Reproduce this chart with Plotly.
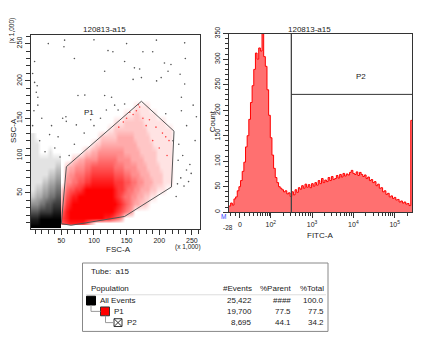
import math
import plotly.graph_objects as go

W, H = 430, 350
FONT = "Liberation Sans, Arial, sans-serif"

plot_title = "120813-a15"

# ---------------- dot plot (FSC-A vs SSC-A, x1000) ----------------
gate_fsc = [50.0, 57.7, 172.7, 222.7, 218.7, 147.0, 65.0, 50.0]
gate_ssc = [8.6, 85.0, 172.7, 132.6, 57.8, 18.3, 6.5, 8.6]
gate_label = "P1"
gate_label_fsc, gate_label_ssc = 93, 157

# P1 (red) event density, 0..9; rows from top (SSC 170-180) to bottom (SSC 7-12); columns FSC 50..230 step 5
red_fsc_edges = list(range(50, 235, 5))
red_ssc_edges = [7, 12] + list(range(20, 190, 10))
red_rows = [
    "00000 00000 00000 00000 00000 00000 00000 0",  # 170-180
    "00000 00000 00000 00000 00111 11000 00000 0",  # 160-170
    "00000 00000 00000 00001 11221 11110 00000 0",  # 150-160
    "00000 00000 00000 01112 22222 11111 11000 0",  # 140-150
    "00000 00000 00001 12222 22222 21111 11110 0",  # 130-140
    "00000 00000 01222 22333 33222 22111 11110 0",  # 120-130
    "00000 00001 22333 33333 33322 22211 11110 0",  # 110-120
    "00000 01223 34444 44443 33332 22221 11110 0",  # 100-110
    "00022 33444 45555 55444 43333 22221 11110 0",  # 90-100
    "02334 44556 66666 65554 44433 32222 11110 0",  # 80-90
    "03445 55667 77777 76665 54443 33222 21110 0",  # 70-80
    "04455 66778 88888 87776 65544 33322 21110 0",  # 60-70
    "25667 78999 99999 98776 55443 33221 11000 0",  # 50-60
    "36788 99999 99999 98765 54433 22110 00000 0",  # 40-50
    "47899 99999 99999 99876 54332 21000 00000 0",  # 30-40
    "68999 99999 99999 98765 43000 00000 00000 0",  # 20-30
    "78999 99999 99988 76530 00000 00000 00000 0",  # 12-20
    "67888 88642 00000 00000 00000 00000 00000 0",  # 7-12
]

# all-events (black, outside P1) density; rows top (SSC 120-130) to bottom (2-10); cols FSC 3.5,10,15..50
black_fsc_edges = [3.5] + list(range(10, 55, 5))
black_ssc_edges = [2] + list(range(10, 140, 10))
black_rows = [
    "100000000",  # 120-130
    "110000000",  # 110-120
    "110001000",  # 100-110
    "111111111",  # 90-100
    "111111122",  # 80-90
    "111112233",  # 70-80
    "111223344",  # 60-70
    "122334455",  # 50-60
    "233445566",  # 40-50
    "445566777",  # 30-40
    "667777888",  # 20-30
    "889999999",  # 10-20
    "999999999",  # 2-10
]

# isolated events outside the dense clouds
black_dot_fsc = [55, 54, 195.7, 239, 9, 121.5, 129, 175, 190, 147, 208, 218, 162, 170, 172.7, 203, 160, 196,
                 213.5, 232, 116.4, 239, 9, 13, 11.6, 14, 14, 75.5, 86, 116.4, 127, 131.7, 147, 119, 137, 95,
                 52, 57, 234, 252, 210, 234, 73, 57.6, 32, 16.8, 221, 229, 241.8, 249, 238, 230, 242, 257,
                 40, 25, 48, 62, 70, 85, 100, 110, 45, 35, 20, 6, 8, 6, 100, 150, 70, 30, 240, 255, 236, 245,
                 226, 233, 247, 228]
black_dot_ssc = [254.6, 245.8, 254.6, 251, 226, 240.6, 239, 239, 239, 226, 224, 222, 217.5, 216, 204.4, 204.4,
                 202, 200, 213, 209, 213, 195.8, 198, 193.6, 184.8, 178, 167.5, 180.5, 181, 180.5, 178, 167.5,
                 169, 161, 161, 148, 150, 152, 178, 167.5, 156, 160, 141, 145.8, 128, 119.7, 119.7, 93.6,
                 80.5, 76, 59, 115, 140, 152, 110, 105, 98, 100, 115, 130, 140, 150, 125, 140, 150, 210,
                 160, 140, 255, 250, 230, 250, 230, 120, 100, 65, 45, 70, 88, 62]
red_dot_fsc = [165, 170, 160, 175, 185, 180, 195, 205, 210, 215, 200, 212, 190, 150, 155, 168, 145, 138]
red_dot_ssc = [160, 165, 155, 150, 148, 140, 138, 130, 125, 120, 110, 100, 120, 150, 158, 168, 145, 138]

fsc_ticks = [50, 100, 150, 200, 250]
ssc_ticks = [50, 100, 150, 200, 250]

# ---------------- histogram (FITC-A, biexponential display units) ----------------
fitc_counts = [12, 18, 14, 26, 30, 42, 50, 62, 80, 98,
               128, 150, 182, 215, 248, 280, 312, 300, 322, 316,
               352, 305, 286, 240, 190, 146, 112, 86, 68, 58,
               50, 47, 44, 40, 42, 36, 38, 31, 40, 34,
               44, 39, 48, 45, 52, 47, 55, 49, 54, 48,
               56, 51, 58, 53, 62, 56, 66, 58, 63, 60,
               68, 62, 70, 64, 66, 72, 67, 74, 69, 76,
               71, 75, 73, 78, 82, 76, 74, 79, 72, 78,
               74, 70, 73, 66, 69, 62, 64, 58, 60, 52,
               55, 47, 48, 40, 42, 35, 37, 30, 32, 27,
               29, 24, 25, 20, 22, 18, 20, 16, 17, 13]
fitc_overflow = 180
fitc_min, fitc_max, fitc_bin = 0.988, 5.42, 0.04
fitc_tick_vals = [1.253, 2, 3, 4, 5]
fitc_tick_text = ["0", "10<sup>2</sup>", "10<sup>3</sup>", "10<sup>4</sup>", "10<sup>5</sup>"]
fitc_linear_minor = [1.03, 1.155, 1.37, 1.49, 1.59, 1.67, 1.74, 1.80, 1.86, 1.91, 1.96]
count_ticks = [0, 50, 100, 150, 200, 250, 300, 350]
p2_low = 2.498
p2_height = 231
p2_label = "P2"

# ---------------- statistics table ----------------
tube_name = "a15"
table_header = ["Population", "#Events", "%Parent", "%Total"]
pop_names = ["All Events", "P1", "P2"]
pop_events = ["25,422", "19,700", "8,695"]
pop_parent = ["####", "77.5", "44.1"]
pop_total = ["100.0", "77.5", "34.2"]


def grid(rows, ncols):
    out = []
    for r in rows:
        s = r.replace(" ", "").ljust(ncols, "0")[:ncols]
        out.append([int(c) for c in s])
    return out[::-1]


def px(x):
    return x / W


def py(y):
    return 1 - y / H


fig = go.Figure()

red_z = grid(red_rows, len(red_fsc_edges) - 1)
black_z = grid(black_rows, len(black_fsc_edges) - 1)

fig.add_trace(go.Heatmap(x=black_fsc_edges, y=black_ssc_edges, z=black_z, zmin=0, zmax=9,
                         zsmooth="best", showscale=False, hoverinfo="skip",
                         colorscale=[[0, "rgba(0,0,0,0)"], [1, "rgba(0,0,0,1)"]],
                         xaxis="x", yaxis="y"))
fig.add_trace(go.Heatmap(x=red_fsc_edges, y=red_ssc_edges, z=red_z, zmin=0, zmax=9,
                         zsmooth="best", showscale=False, hoverinfo="skip",
                         colorscale=[[0, "rgba(255,0,0,0)"], [1, "rgba(255,0,0,1)"]],
                         xaxis="x", yaxis="y"))
fig.add_trace(go.Scatter(x=black_dot_fsc, y=black_dot_ssc, mode="markers",
                         marker=dict(size=1.6, color="#555"), hoverinfo="skip",
                         xaxis="x", yaxis="y"))
fig.add_trace(go.Scatter(x=red_dot_fsc, y=red_dot_ssc, mode="markers",
                         marker=dict(size=1.6, color="#ff4040"), hoverinfo="skip",
                         xaxis="x", yaxis="y"))
fig.add_trace(go.Scatter(x=gate_fsc, y=gate_ssc, mode="lines",
                         line=dict(color="#555", width=1), hoverinfo="skip",
                         xaxis="x", yaxis="y"))

# histogram as a step outline
hx = [fitc_min + fitc_bin * i for i in range(len(fitc_counts))] + [5.39, fitc_max]
hy = fitc_counts + [fitc_overflow, fitc_overflow]
fig.add_trace(go.Scatter(x=hx, y=hy, mode="lines", line=dict(color="#ff0000", width=1, shape="hv"),
                         fill="tozeroy", fillcolor="#ff7070", hoverinfo="skip",
                         xaxis="x2", yaxis="y2"))

fsc_minor = [v for v in range(10, 261, 10) if v not in fsc_ticks]
ssc_minor = [v for v in range(10, 261, 10) if v not in ssc_ticks]
log_minor = [d + math.log10(k) for d in (2, 3, 4) for k in range(2, 10)] + [5 + math.log10(2)]
count_minor = [v for v in range(10, 350, 10) if v not in count_ticks]

axis_common = dict(showgrid=False, zeroline=False, showline=True, mirror=True,
                   linecolor="#333", linewidth=1, ticks="outside", tickcolor="#333",
                   tickwidth=1, tickfont=dict(family=FONT, size=7, color="#222"))

fig.update_layout(
    width=W, height=H, margin=dict(l=0, r=0, t=0, b=0),
    paper_bgcolor="white", plot_bgcolor="white", showlegend=False,
    font=dict(family=FONT, size=8, color="#222"),
    xaxis=dict(domain=[px(31), px(200)], range=[3.5, 262.5], tickmode="array",
               tickvals=fsc_ticks, ticklen=5,
               minor=dict(tickvals=fsc_minor, ticklen=4, ticks="outside", tickcolor="#333"),
               anchor="y", **axis_common),
    yaxis=dict(domain=[py(226.8), py(28.3)], range=[2, 262], tickmode="array",
               tickvals=ssc_ticks, ticklen=5, tickangle=-90,
               minor=dict(tickvals=ssc_minor, ticklen=4, ticks="outside", tickcolor="#333"),
               anchor="x", **axis_common),
    xaxis2=dict(domain=[px(229), px(412)], range=[fitc_min, fitc_max], tickmode="array",
                tickvals=fitc_tick_vals, ticktext=fitc_tick_text, ticklen=5,
                minor=dict(tickvals=fitc_linear_minor + log_minor, ticklen=3, ticks="outside",
                           tickcolor="#333"),
                anchor="y2", **axis_common),
    yaxis2=dict(domain=[py(210), py(27.3)], range=[0, 350], tickmode="array",
                tickvals=count_ticks, ticklen=5, tickangle=-90,
                minor=dict(tickvals=count_minor, ticklen=3, ticks="outside", tickcolor="#333"),
                anchor="x2", **axis_common),
)

shapes = [
    dict(type="line", xref="x2", yref="y2", x0=p2_low, x1=p2_low, y0=0, y1=350,
         line=dict(color="#444", width=1.3)),
    dict(type="line", xref="x2", yref="y2", x0=p2_low, x1=fitc_max, y0=p2_height, y1=p2_height,
         line=dict(color="#333", width=1)),
]

ann = []


def text(x, y, s, size=8, anchor="center", angle=0, color="#222", yanchor="middle"):
    ann.append(dict(x=px(x), y=py(y), xref="paper", yref="paper", text=s, showarrow=False,
                    xanchor=anchor, yanchor=yanchor, textangle=angle,
                    font=dict(family=FONT, size=size, color=color)))


# titles and axis labels
text(104, 23, plot_title, 8)
text(309, 23, plot_title, 8)
text(13, 127, "SSC-A", 8, angle=-90)
text(12, 24, "(x 1,000)", 6.5, angle=-90)
text(118, 248, "FSC-A", 8)
text(188, 246, "(x 1,000)", 6.5)
text(212, 117, "Count", 8, angle=-90)
text(320, 234, "FITC-A", 8)
text(228, 226, "-28", 6.5)
text(223, 214, "M", 6.5, color="#3040ff")
ann.append(dict(x=gate_label_fsc, y=gate_label_ssc, xref="x", yref="y", text=gate_label,
                showarrow=False, font=dict(family=FONT, size=8, color="#222")))
ann.append(dict(x=4.18, y=267, xref="x2", yref="y2", text=p2_label,
                showarrow=False, font=dict(family=FONT, size=8, color="#222")))

# table box
shapes.append(dict(type="rect", xref="paper", yref="paper", x0=px(82.5), x1=px(328), y0=py(332), y1=py(262),
                   line=dict(color="#888", width=1), fillcolor="white"))
shapes.append(dict(type="line", xref="paper", yref="paper", x0=px(86), x1=px(326), y0=py(294.5), y1=py(294.5),
                   line=dict(color="#ddd", width=1)))
text(89, 270.5, "Tube:  " + tube_name, 8, anchor="left")
text(89, 288, table_header[0], 8, anchor="left")
col_right = [253.5, 293, 326]
for j, h in enumerate(table_header[1:]):
    text(col_right[j], 288, h, 8, anchor="right")
row_y = [300.5, 311.7, 323]
name_x = [97.5, 111.5, 124.5]
for i in range(3):
    text(name_x[i], row_y[i], pop_names[i], 8, anchor="left")
    text(col_right[0], row_y[i], pop_events[i], 8, anchor="right")
    text(col_right[1], row_y[i], pop_parent[i], 8, anchor="right")
    text(col_right[2], row_y[i], pop_total[i], 8, anchor="right")

# hierarchy icons
shapes.append(dict(type="rect", xref="paper", yref="paper", x0=px(86.5), x1=px(95.5), y0=py(305), y1=py(296),
                   line=dict(color="#000", width=1), fillcolor="#000"))
shapes.append(dict(type="rect", xref="paper", yref="paper", x0=px(100.5), x1=px(109.5), y0=py(316), y1=py(307),
                   line=dict(color="#333", width=1), fillcolor="#ff0000"))
shapes.append(dict(type="rect", xref="paper", yref="paper", x0=px(114), x1=px(122), y0=py(327), y1=py(319),
                   line=dict(color="#333", width=1), fillcolor="white"))
shapes.append(dict(type="line", xref="paper", yref="paper", x0=px(114), x1=px(122), y0=py(319), y1=py(327),
                   line=dict(color="#333", width=1)))
shapes.append(dict(type="line", xref="paper", yref="paper", x0=px(114), x1=px(122), y0=py(327), y1=py(319),
                   line=dict(color="#333", width=1)))
shapes.append(dict(type="path", xref="paper", yref="paper",
                   path=f"M {px(91)},{py(305)} L {px(91)},{py(311.5)} L {px(100.5)},{py(311.5)}",
                   line=dict(color="#999", width=1)))
shapes.append(dict(type="path", xref="paper", yref="paper",
                   path=f"M {px(105.5)},{py(316)} L {px(105.5)},{py(323)} L {px(114)},{py(323)}",
                   line=dict(color="#999", width=1)))

fig.update_layout(shapes=shapes, annotations=ann)
fig.write_html("out.html")
